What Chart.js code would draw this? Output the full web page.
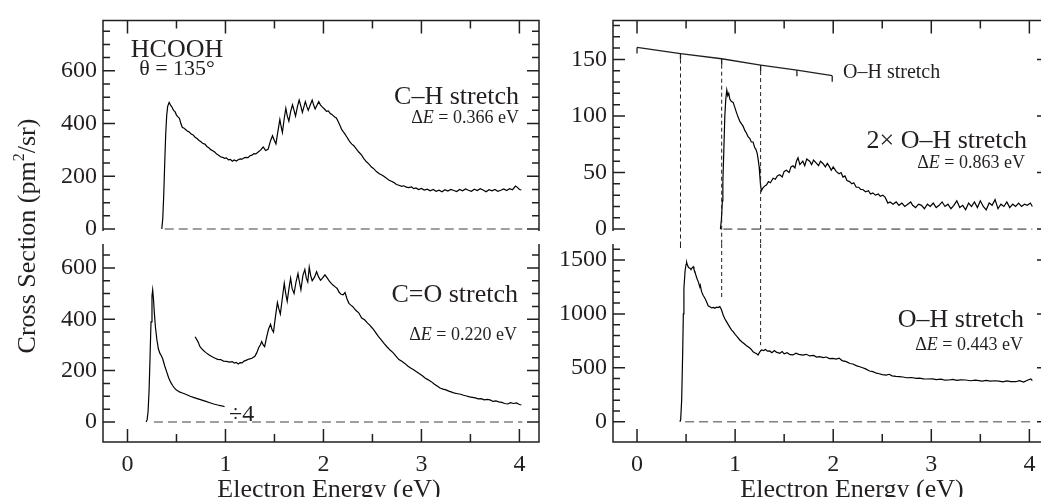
<!DOCTYPE html>
<html><head><meta charset="utf-8">
<script src="https://cdn.jsdelivr.net/npm/chart.js@4.4.1/dist/chart.umd.min.js"></script>
<style>
html,body{margin:0;padding:0;background:#fff;overflow:hidden;width:1041px;height:497px;}
canvas{position:absolute;left:0;top:0;}
</style></head><body>
<canvas id="cTL" width="1060" height="497"></canvas>
<canvas id="cBL" width="1060" height="497"></canvas>
<canvas id="cTR" width="1060" height="497"></canvas>
<canvas id="cBR" width="1060" height="497"></canvas>
<script>
// ---------------- DATA ----------------
const energyTicks = [0, 1, 2, 3, 4];
const energyMinor = [0.5, 1.5, 2.5, 3.5];

// C-H stretch (top left)
const chX = [0.35,0.36,0.37,0.38,0.39,0.40,0.41,0.425,0.44,0.455,0.47,0.485,0.50,0.515,0.53,0.545,0.56,0.575,0.59,0.61,0.63,0.65,0.67,0.69,0.71,0.73,0.75,0.77,0.79,0.81,0.83,0.85,0.87,0.89,0.91,0.93,0.95,0.97,0.99,1.01,1.03,1.05,1.07,1.09,1.11,1.13,1.15,1.17,1.19,1.21,1.23,1.25,1.27,1.29,1.31,1.334,1.36,1.385,1.41,1.435,1.46,1.48,1.50,1.515,1.535,1.555,1.57,1.581,1.60,1.616,1.63,1.647,1.665,1.684,1.70,1.715,1.735,1.752,1.77,1.785,1.80,1.815,1.83,1.845,1.865,1.885,1.90,1.915,1.935,1.952,1.97,1.99,2.01,2.031,2.05,2.07,2.085,2.10,2.115,2.132,2.15,2.17,2.185,2.20,2.22,2.24,2.252,2.27,2.29,2.31,2.335,2.36,2.39,2.41,2.439,2.46,2.49,2.51,2.541,2.57,2.60,2.62,2.643,2.67,2.70,2.72,2.745,2.77,2.80,2.82,2.845,2.87,2.90,2.92,2.945,2.97,3.00,3.03,3.06,3.09,3.12,3.15,3.18,3.21,3.24,3.27,3.30,3.33,3.36,3.39,3.42,3.45,3.48,3.51,3.54,3.57,3.60,3.63,3.66,3.69,3.72,3.75,3.78,3.81,3.84,3.87,3.90,3.93,3.96,3.98,4.00,4.02];
const chY = [0,40,130,250,360,430,465,480,470,462,450,445,432,425,420,400,385,383,378,372,368,360,357,348,343,336,331,324,322,313,308,301,297,292,284,280,274,272,268,270,262,264,257,262,258,263,266,265,270,272,271,278,280,286,285,292,300,311,298,302,335,354,335,323,370,415,385,366,420,458,430,409,445,471,450,428,465,489,465,442,462,483,465,450,470,489,470,455,470,483,470,462,455,446,448,438,434,430,425,421,408,392,378,370,360,348,341,330,322,316,304,292,280,268,255,248,235,230,218,210,204,199,193,185,180,176,169,166,162,164,159,157,160,153,156,150,154,148,151,145,150,143,147,141,149,144,150,146,142,150,145,152,147,143,151,146,153,148,141,149,145,150,143,147,152,146,153,149,163,158,150,148];
const chBase = [0.38, 4.03];

// C=O stretch (bottom left): divided-by-4 part and full part
const coLowX = [0.19,0.20,0.21,0.22,0.23,0.24,0.25,0.257,0.265,0.275,0.285,0.30,0.315,0.33,0.345,0.36,0.38,0.40,0.42,0.44,0.46,0.48,0.50,0.53,0.56,0.60,0.64,0.68,0.72,0.76,0.80,0.84,0.88,0.92,0.96,0.99];
const coLowY = [0,8,40,120,250,390,490,514,480,420,370,320,285,268,258,245,218,195,172,155,142,132,124,117,113,107,100,95,90,85,80,75,70,66,63,60];
const coX = [0.69,0.72,0.74,0.77,0.80,0.83,0.86,0.89,0.92,0.95,0.98,1.01,1.04,1.07,1.09,1.11,1.13,1.15,1.17,1.19,1.215,1.24,1.27,1.30,1.32,1.34,1.355,1.37,1.385,1.40,1.42,1.44,1.46,1.475,1.49,1.51,1.53,1.545,1.56,1.58,1.60,1.615,1.63,1.65,1.665,1.68,1.70,1.72,1.74,1.755,1.77,1.79,1.81,1.825,1.84,1.855,1.87,1.885,1.91,1.93,1.95,1.97,1.99,2.015,2.04,2.06,2.08,2.10,2.12,2.14,2.16,2.18,2.20,2.22,2.24,2.26,2.28,2.30,2.33,2.36,2.39,2.42,2.45,2.47,2.50,2.53,2.56,2.59,2.62,2.65,2.68,2.71,2.74,2.77,2.80,2.83,2.86,2.89,2.92,2.95,2.98,3.01,3.04,3.07,3.10,3.13,3.16,3.19,3.22,3.25,3.28,3.31,3.34,3.37,3.40,3.43,3.46,3.49,3.52,3.55,3.58,3.61,3.64,3.67,3.70,3.73,3.76,3.79,3.82,3.85,3.88,3.91,3.94,3.97,4.00,4.02];
const coY = [332,312,293,280,270,262,255,249,244,243,237,236,233,235,229,232,226,231,230,237,241,245,248,256,270,290,300,313,300,293,330,362,380,360,350,410,465,440,420,480,540,500,470,525,560,520,500,545,578,545,515,570,594,560,545,603,570,550,565,585,565,552,560,573,560,548,540,532,526,520,505,497,495,504,480,462,455,449,435,425,405,398,385,378,365,350,333,320,305,292,280,270,256,243,236,228,218,210,203,196,188,180,170,164,157,148,140,132,128,125,120,116,112,110,108,104,101,98,96,94,90,91,86,88,86,80,82,78,76,72,70,75,72,74,68,66];
const coBase = [0.27, 4.03];

// 2x O-H stretch (top right)
const oh2X = [0.85,0.86,0.87,0.875,0.885,0.895,0.905,0.915,0.925,0.935,0.946,0.96,0.98,0.995,1.014,1.03,1.05,1.065,1.081,1.10,1.115,1.13,1.15,1.165,1.183,1.20,1.21,1.225,1.234,1.245,1.251,1.26,1.268,1.28,1.30,1.319,1.34,1.36,1.387,1.41,1.43,1.455,1.48,1.50,1.523,1.55,1.57,1.59,1.61,1.625,1.641,1.66,1.69,1.71,1.73,1.76,1.78,1.80,1.83,1.85,1.87,1.895,1.92,1.94,1.963,1.98,2.00,2.03,2.06,2.08,2.10,2.12,2.14,2.167,2.19,2.21,2.235,2.26,2.28,2.302,2.33,2.36,2.38,2.404,2.43,2.46,2.48,2.506,2.53,2.557,2.58,2.61,2.642,2.67,2.70,2.73,2.76,2.79,2.81,2.84,2.87,2.90,2.93,2.96,2.99,3.02,3.05,3.08,3.11,3.14,3.17,3.20,3.23,3.26,3.29,3.32,3.35,3.38,3.41,3.44,3.47,3.50,3.53,3.56,3.59,3.62,3.65,3.68,3.71,3.74,3.77,3.80,3.83,3.86,3.89,3.92,3.95,3.98,4.01,4.03];
const oh2Y = [0,8,25,42,70,100,115,123,118,120,115,113,112,108,103,99,95,93,91,87,85,82,80,77,77,72,71,67,62,55,48,38,34,36,38,39,42,41,45,44,47,48,46,51,52,50,55,56,54,60,63,57,60,56,62,60,57,61,58,56,60,58,55,58,55,52,55,51,49,50,46,47,43,42,40,41,37,37,35,35,33,34,31,32,30,31,29,30,28,23,24,22,24,21,23,20,22,24,21,19,22,21,18,22,20,23,19,21,24,20,22,18,21,25,19,21,17,23,20,24,19,25,20,17,23,21,26,18,22,20,24,19,22,20,23,20,22,21,23,20];
const oh2Base = [0.88, 4.03];

// O-H stretch (bottom right)
const ohX = [0.437,0.445,0.455,0.465,0.472,0.478,0.49,0.50,0.506,0.515,0.525,0.54,0.55,0.56,0.573,0.58,0.59,0.60,0.61,0.624,0.64,0.645,0.658,0.675,0.692,0.71,0.725,0.743,0.76,0.78,0.794,0.81,0.825,0.844,0.86,0.878,0.895,0.912,0.93,0.95,0.965,0.98,1.0,1.02,1.048,1.07,1.09,1.116,1.14,1.16,1.183,1.20,1.22,1.234,1.25,1.268,1.29,1.31,1.33,1.353,1.375,1.40,1.42,1.455,1.48,1.50,1.53,1.56,1.59,1.62,1.65,1.69,1.726,1.76,1.80,1.83,1.862,1.90,1.93,1.96,1.998,2.03,2.06,2.09,2.134,2.17,2.20,2.24,2.27,2.30,2.33,2.37,2.405,2.44,2.47,2.50,2.54,2.57,2.60,2.64,2.675,2.71,2.75,2.80,2.845,2.88,2.92,2.96,3.014,3.05,3.10,3.14,3.18,3.22,3.26,3.30,3.35,3.40,3.45,3.52,3.56,3.60,3.65,3.69,3.73,3.77,3.81,3.86,3.90,3.94,3.98,4.015,4.03];
const ohY = [0,20,200,619,1000,1237,1400,1460,1478,1450,1430,1423,1410,1425,1438,1415,1392,1360,1330,1299,1250,1265,1206,1170,1145,1110,1075,1067,1055,1060,1052,1062,1058,1067,1040,990,955,928,900,870,850,835,810,790,758,740,725,705,690,675,649,640,630,619,645,665,660,670,655,656,640,660,645,634,650,630,640,622,619,635,625,618,625,610,615,600,603,595,600,585,588,580,590,567,557,540,535,518,510,500,490,470,464,450,445,437,433,440,425,420,418,415,408,410,402,405,398,396,397,390,395,385,387,392,383,388,387,380,385,377,383,376,380,377,370,378,372,371,380,368,385,397,380];
const ohBase = [0.49, 4.03];

// O-H vibrational ladder
const ohLevels = [0, 0.443, 0.863, 1.26, 1.63, 1.99];
const ohLadderY = [160.6, 155.2, 150.6, 145.0, 140.5, 135.6];
const dashLevels = [0.443, 0.863, 1.26];
const dashEndOH = [1610, 1130, 710];

// axis ticks
const chYTicks = [0, 200, 400, 600];
const coYTicks = [0, 200, 400, 600];
const oh2YTicks = [0, 50, 100, 150];
const ohYTicks = [0, 500, 1000, 1500];

// ---------------- DRAWING ----------------
const INK = '#231f20';
const SERIF = '"Liberation Serif", "Times New Roman", serif';
const CW = 1060, CH = 497, YW = 60, XH = 40;
const GAP_BOTTOM = 244; // top of lower panels

function pts(xs, ys) { return xs.map((x, i) => ({x, y: ys[i]})); }
function f(size, style) { return (style ? style + ' ' : '') + size + 'px ' + SERIF; }

function drawRuns(ctx, runs, x, y, align) {
  let w = 0;
  runs.forEach(r => { ctx.font = r.f; r.w = ctx.measureText(r.t).width; w += r.w; });
  let cx = align === 'right' ? x - w : (align === 'center' ? x - w / 2 : x);
  runs.forEach(r => { ctx.font = r.f; ctx.fillText(r.t, cx, y + (r.dy || 0)); cx += r.w; });
}
function dE(val) {
  return [{t: '\u0394', f: f(18)}, {t: 'E', f: f(18, 'italic')}, {t: ' = ' + val + ' eV', f: f(18)}];
}

const decoPlugin = {
  id: 'deco',
  afterDatasetsDraw(chart, args, o) {
    const {ctx, chartArea: a, scales: {x, y}} = chart;
    ctx.save();
    ctx.strokeStyle = INK; ctx.lineWidth = 1.5; ctx.setLineDash([]);
    ctx.beginPath();
    ctx.moveTo(a.left, a.top); ctx.lineTo(a.left, a.bottom);
    ctx.moveTo(a.right, a.top); ctx.lineTo(a.right, a.bottom);
    if (o.top) { ctx.moveTo(a.left - 0.75, a.top); ctx.lineTo(a.right + 0.75, a.top); }
    else { ctx.moveTo(a.left - 0.75, a.bottom); ctx.lineTo(a.right + 0.75, a.bottom); }
    // x ticks (inward)
    const ey = o.top ? a.top : a.bottom, d = o.top ? 1 : -1;
    energyTicks.forEach(v => { const px = x.getPixelForValue(v); ctx.moveTo(px, ey); ctx.lineTo(px, ey + d * 13); });
    energyMinor.forEach(v => { const px = x.getPixelForValue(v); ctx.moveTo(px, ey); ctx.lineTo(px, ey + d * 8); });
    // y ticks (both sides, inward)
    for (let v = 0; v <= y.max; v += o.yMinorStep) {
      const py = y.getPixelForValue(v);
      const major = o.yTicks.indexOf(v) >= 0;
      const len = major ? 12 : 7;
      ctx.moveTo(a.left, py); ctx.lineTo(a.left + len, py);
      ctx.moveTo(a.right, py); ctx.lineTo(a.right - len, py);
    }
    ctx.stroke();
    if (o.extra) o.extra(chart, ctx);
    ctx.fillStyle = INK; ctx.textBaseline = 'alphabetic';
    (o.texts || []).forEach(t => {
      if (t.rot) {
        ctx.save(); ctx.translate(t.x, t.y); ctx.rotate(t.rot);
        drawRuns(ctx, t.runs, 0, 0, t.align); ctx.restore();
      } else drawRuns(ctx, t.runs, t.x, t.y, t.align);
    });
    ctx.restore();
  }
};

function curve(xs, ys) {
  return {data: pts(xs, ys), borderColor: '#000', borderWidth: 1.2, pointRadius: 0, tension: 0, fill: false};
}
function baseline(b) {
  return {data: [{x: b[0], y: 0}, {x: b[1], y: 0}], borderColor: '#808080', borderWidth: 1.6,
    borderDash: [9, 5], pointRadius: 0, fill: false};
}

function makeChart(id, p) {
  const tickFont = {family: SERIF, size: 24};
  return new Chart(document.getElementById(id), {
    type: 'line',
    data: {datasets: p.datasets},
    plugins: [decoPlugin],
    options: {
      responsive: false, animation: false, devicePixelRatio: 1, events: [],
      layout: {autoPadding: false, padding: {left: p.L - YW, right: CW - p.R, top: p.T,
        bottom: CH - p.B - (p.showX ? XH : 0)}},
      plugins: {legend: {display: false}, tooltip: {enabled: false},
        deco: {top: !p.showX, yTicks: p.yTicks, yMinorStep: p.yMinorStep, texts: p.texts, extra: p.extra}},
      scales: {
        x: {type: 'linear', min: p.xMin, max: p.xMax, display: p.showX, position: 'bottom',
          afterFit: s => { s.height = p.showX ? XH : 0; },
          afterBuildTicks: s => { s.ticks = energyTicks.map(v => ({value: v})); },
          grid: {display: false, drawTicks: false}, border: {display: false},
          ticks: {font: tickFont, color: INK, padding: 8, maxRotation: 0, autoSkip: false,
            callback: v => String(v)}},
        y: {type: 'linear', min: p.yMin, max: p.yMax, position: 'left',
          afterFit: s => { s.width = YW; },
          afterBuildTicks: s => { s.ticks = p.yTicks.map(v => ({value: v})); },
          grid: {display: false, drawTicks: false}, border: {display: false},
          ticks: {font: tickFont, color: INK, padding: 6, autoSkip: false, callback: v => String(v)}}
      }
    }
  });
}

// Top left: C-H stretch
makeChart('cTL', {
  L: 103, R: 539, T: 15, B: 231, xMin: -0.25, xMax: 4.2, yMin: -7.4, yMax: 791,
  showX: false, yTicks: chYTicks, yMinorStep: 50,
  datasets: [baseline(chBase), curve(chX, chY)],
  texts: [
    {runs: [{t: 'HCOOH', f: f(26)}], x: 177, y: 57, align: 'center'},
    {runs: [{t: '\u03B8 = 135\u00B0', f: f(22)}], x: 177, y: 75, align: 'center'},
    {runs: [{t: 'C\u2013H stretch', f: f(26)}], x: 519, y: 104, align: 'right'},
    {runs: dE('0.366'), x: 519, y: 123, align: 'right'},
    {runs: [{t: 'Cross Section (pm', f: f(26)}, {t: '2', f: f(16), dy: -11}, {t: '/sr)', f: f(26)}],
      x: 35, y: 236, align: 'center', rot: -Math.PI / 2}
  ]
});

// Bottom left: C=O stretch
makeChart('cBL', {
  L: 103, R: 539, T: 244, B: 442, xMin: -0.25, xMax: 4.2, yMin: -78, yMax: 693,
  showX: true, yTicks: coYTicks, yMinorStep: 50,
  datasets: [baseline(coBase), curve(coLowX, coLowY), curve(coX, coY)],
  texts: [
    {runs: [{t: 'C=O stretch', f: f(26)}], x: 518, y: 302, align: 'right'},
    {runs: dE('0.220'), x: 517, y: 340, align: 'right'},
    {runs: [{t: '\u00F74', f: f(24)}], x: 229, y: 421, align: 'left'},
    {runs: [{t: 'Electron Energy (eV)', f: f(26)}], x: 329, y: 497, align: 'center'}
  ]
});

// Top right: 2x O-H stretch with O-H ladder
makeChart('cTR', {
  L: 613, R: 1049, T: 15, B: 231, xMin: -0.245, xMax: 4.2, yMin: -1.7, yMax: 184.5,
  showX: false, yTicks: oh2YTicks, yMinorStep: 10,
  datasets: [baseline(oh2Base), curve(oh2X, oh2Y),
    {data: pts(ohLevels, ohLadderY), borderColor: INK, borderWidth: 1.3, pointRadius: 0, tension: 0}],
  extra: (chart, ctx) => {
    const {scales: {x, y}} = chart;
    ctx.beginPath(); ctx.lineWidth = 1.3; ctx.setLineDash([]);
    ohLevels.forEach((v, i) => {
      const px = x.getPixelForValue(v), py = y.getPixelForValue(ohLadderY[i]);
      ctx.moveTo(px, py); ctx.lineTo(px, py + 6);
    });
    ctx.stroke();
    ctx.beginPath(); ctx.lineWidth = 1; ctx.setLineDash([4, 3]);
    dashLevels.forEach(v => {
      const i = ohLevels.indexOf(v);
      const px = x.getPixelForValue(v), py = y.getPixelForValue(ohLadderY[i]);
      ctx.moveTo(px, py + 6); ctx.lineTo(px, GAP_BOTTOM);
    });
    ctx.stroke(); ctx.setLineDash([]);
  },
  texts: [
    {runs: [{t: 'O\u2013H stretch', f: f(20)}], x: 843, y: 78, align: 'left'},
    {runs: [{t: '2\u00D7 O\u2013H stretch', f: f(26)}], x: 1027, y: 148, align: 'right'},
    {runs: dE('0.863'), x: 1025, y: 168, align: 'right'}
  ]
});

// Bottom right: O-H stretch
makeChart('cBR', {
  L: 613, R: 1049, T: 244, B: 442, xMin: -0.245, xMax: 4.2, yMin: -188, yMax: 1648,
  showX: true, yTicks: ohYTicks, yMinorStep: 100,
  datasets: [baseline(ohBase), curve(ohX, ohY)],
  extra: (chart, ctx) => {
    const {chartArea: a, scales: {x, y}} = chart;
    ctx.beginPath(); ctx.lineWidth = 1; ctx.setLineDash([4, 3]);
    dashLevels.forEach((v, i) => {
      const px = x.getPixelForValue(v);
      ctx.moveTo(px, a.top); ctx.lineTo(px, y.getPixelForValue(dashEndOH[i]));
    });
    ctx.stroke(); ctx.setLineDash([]);
  },
  texts: [
    {runs: [{t: 'O\u2013H stretch', f: f(26)}], x: 1024, y: 327, align: 'right'},
    {runs: dE('0.443'), x: 1023, y: 350, align: 'right'},
    {runs: [{t: 'Electron Energy (eV)', f: f(26)}], x: 852, y: 497, align: 'center'}
  ]
});
</script>
</body></html>
